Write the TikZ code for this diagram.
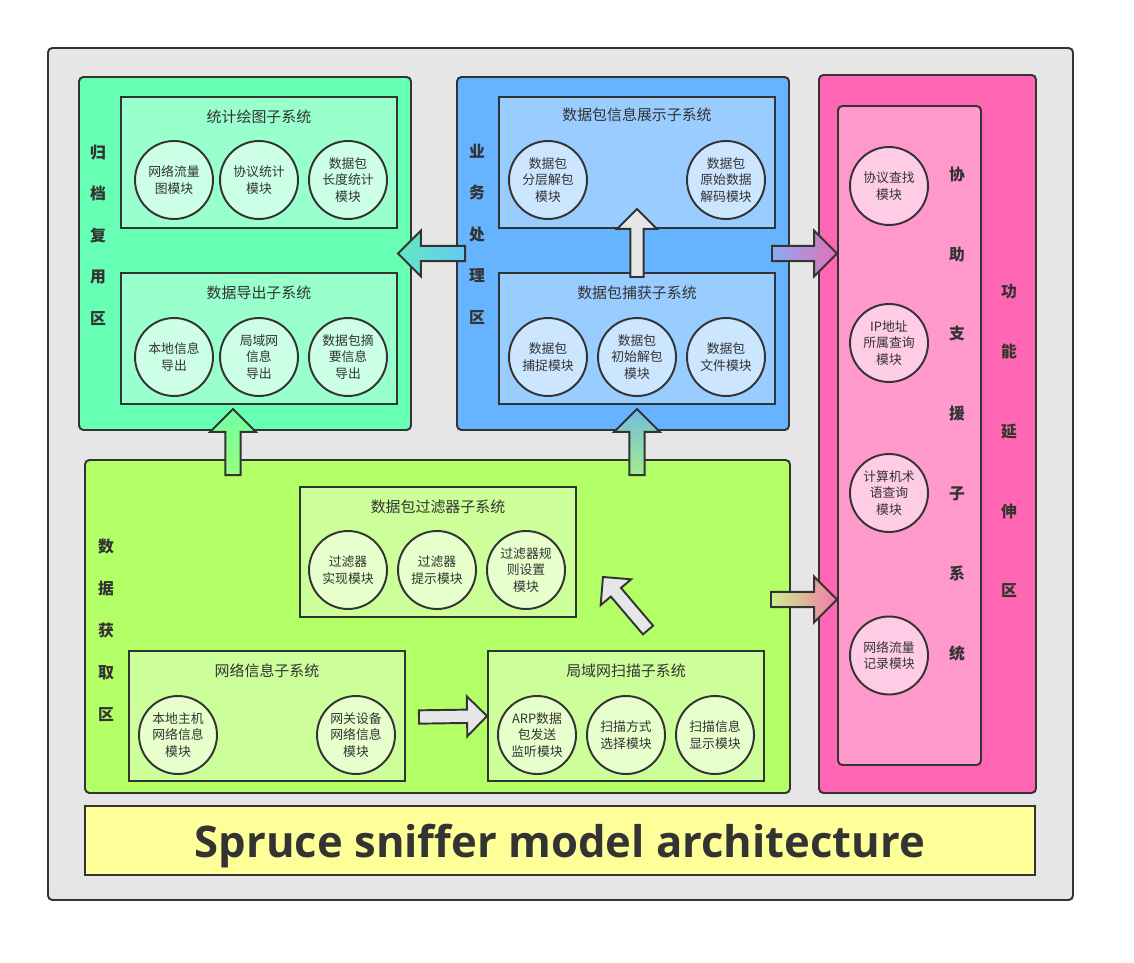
\documentclass[tikz,border=0pt]{standalone}
\usepackage{fontspec}
\usepackage{tikz}
\usetikzlibrary{calc,positioning}
\newfontfamily\cjk{Noto Sans CJK SC}
\newfontfamily\titlefont{Open Sans}

\definecolor{linec}{HTML}{333333}
\definecolor{framebg}{HTML}{E6E6E6}
\definecolor{archfill}{HTML}{66FFB3}
\definecolor{archsub}{HTML}{99FFCC}
\definecolor{archmod}{HTML}{CCFFE6}
\definecolor{busifill}{HTML}{66B3FF}
\definecolor{busisub}{HTML}{99CCFF}
\definecolor{busimod}{HTML}{CCE6FF}
\definecolor{extfill}{HTML}{FF66B3}
\definecolor{extsub}{HTML}{FF99CC}
\definecolor{extmod}{HTML}{FFCCE6}
\definecolor{acqfill}{HTML}{B3FF66}
\definecolor{acqsub}{HTML}{CCFF99}
\definecolor{acqmod}{HTML}{E6FFCC}
\definecolor{titlefill}{HTML}{FFFF99}
\definecolor{greyarr}{HTML}{E6E6E6}

\tikzset{
  zone/.style={draw=linec, line width=1.1pt, rounded corners=2.5pt},
  subbox/.style={draw=linec, line width=1.1pt},
  sz/.style 2 args={minimum width=#1*0.02cm, minimum height=#2*0.02cm, inner sep=0pt},
  modc/.style={circle, draw=linec, line width=1.1pt, minimum size=1.56cm, inner sep=0pt,
    align=center, text=linec, font=\cjk\fontsize{7.3pt}{9.4pt}\selectfont},
  subtitle/.style={text=linec, font=\cjk\fontsize{8.5pt}{10pt}\selectfont},
  zonelabel/.style={text=linec, align=center, font=\cjk\bfseries\fontsize{9pt}{23.6pt}\selectfont},
  fatline/.style={draw=linec, line width=1.1pt, line join=miter},
}

% block arrow: [style]{tail}{tip}{half width of the head}
\newcommand{\fatarrow}[4][]{%
  \path ($(#3)!#4!(#2)$) coordinate (hb);
  \draw[fatline,#1] ($(#2)!#4/3!90:(#3)$) -- ($(hb)!#4/3!90:(#3)$) -- ($(hb)!#4!90:(#3)$) -- (#3)
    -- ($(hb)!#4!-90:(#3)$) -- ($(hb)!#4/3!-90:(#3)$) -- ($(#2)!#4/3!-90:(#3)$) -- cycle;
}

\begin{document}
\begin{tikzpicture}[x=0.02cm, y=-0.02cm]
\fill [white] (0,0) rectangle (1134,963);
\useasboundingbox (0,0) rectangle (1134,963);
\node [zone, fill=framebg, sz={1025}{852}] (frame) at (560.5,474) {};

% archive zone
\node [zone, fill=archfill, sz={332}{353}] (arch) at (245,253.5) {};
\node [zonelabel] (archL) at (98,235) {归\\档\\复\\用\\区};
\node [subbox, fill=archsub, sz={276}{131}] (statbox) at (259,162.5) {};
\node [subtitle] (statT) at (259,117) {统计绘图子系统};
\node [modc, fill=archmod] (statA) at (174,180) {网络流量\\图模块};
\node [modc, fill=archmod] (statB) at (259,180) {协议统计\\模块};
\node [modc, fill=archmod] (statC) at (348,180) {数据包\\长度统计\\模块};
\node [subbox, fill=archsub, sz={276}{131}] (exportbox) at (259,338.5) {};
\node [subtitle] (exportT) at (259,293) {数据导出子系统};
\node [modc, fill=archmod] (exportA) at (174,357) {本地信息\\导出};
\node [modc, fill=archmod] (exportB) at (259,357) {局域网\\信息\\导出};
\node [modc, fill=archmod] (exportC) at (348,357) {数据包摘\\要信息\\导出};

% business zone
\node [zone, fill=busifill, sz={332}{353}] (busi) at (623,253.5) {};
\node [zonelabel] (busiL) at (477,234) {业\\务\\处\\理\\区};
\node [subbox, fill=busisub, sz={276}{131}] (showbox) at (637,162.5) {};
\node [subtitle] (showT) at (637,115) {数据包信息展示子系统};
\node [modc, fill=busimod] (showA) at (548,180) {数据包\\分层解包\\模块};
\node [modc, fill=busimod] (showB) at (726,180) {数据包\\原始数据\\解码模块};
\node [subbox, fill=busisub, sz={276}{131}] (capbox) at (637,338.5) {};
\node [subtitle] (capT) at (637,293) {数据包捕获子系统};
\node [modc, fill=busimod] (capA) at (548,357) {数据包\\捕捉模块};
\node [modc, fill=busimod] (capB) at (637,357) {数据包\\初始解包\\模块};
\node [modc, fill=busimod] (capC) at (726,357) {数据包\\文件模块};

% extension zone
\node [zone, fill=extfill, sz={217}{718}] (ext) at (927.5,434) {};
\node [zonelabel, font=\cjk\bfseries\fontsize{9pt}{45.5pt}\selectfont] (extL) at (1009,441) {功\\[-0.4cm]能\\延\\伸\\区};
\node [zone, fill=extsub, sz={143}{659}] (assist) at (909.5,435.5) {};
\node [zonelabel, font=\cjk\bfseries\fontsize{9pt}{45.5pt}\selectfont] (assistL) at (957,414) {协\\助\\支\\援\\子\\系\\统};
\node [modc, fill=extmod] (assistA) at (889,186) {协议查找\\模块};
\node [modc, fill=extmod] (assistB) at (889,343) {IP地址\\所属查询\\模块};
\node [modc, fill=extmod] (assistC) at (889,493) {计算机术\\语查询\\模块};
\node [modc, fill=extmod] (assistD) at (889,655.5) {网络流量\\记录模块};

% acquisition zone
\node [zone, fill=acqfill, sz={705}{333}] (acq) at (437.5,626.5) {};
\node [zonelabel, font=\cjk\bfseries\fontsize{9pt}{23.9pt}\selectfont] (acqL) at (106,630) {数\\据\\获\\取\\区};
\node [subbox, fill=acqsub, sz={276}{130}] (filterbox) at (438,552) {};
\node [subtitle] (filterT) at (438,507) {数据包过滤器子系统};
\node [modc, fill=acqmod] (filterA) at (348,570) {过滤器\\实现模块};
\node [modc, fill=acqmod] (filterB) at (437,570) {过滤器\\提示模块};
\node [modc, fill=acqmod] (filterC) at (526,570) {过滤器规\\则设置\\模块};
\node [subbox, fill=acqsub, sz={276}{130}] (netbox) at (267,716) {};
\node [subtitle] (netT) at (267,671) {网络信息子系统};
\node [modc, fill=acqmod] (netA) at (178,735) {本地主机\\网络信息\\模块};
\node [modc, fill=acqmod] (netB) at (356,735) {网关设备\\网络信息\\模块};
\node [subbox, fill=acqsub, sz={276}{130}] (scanbox) at (626,716) {};
\node [subtitle] (scanT) at (626,671) {局域网扫描子系统};
\node [modc, fill=acqmod] (scanA) at (537,735) {ARP数据\\包发送\\监听模块};
\node [modc, fill=acqmod] (scanB) at (626,735) {扫描方式\\选择模块};
\node [modc, fill=acqmod] (scanC) at (715,735) {扫描信息\\显示模块};

% title bar
\node [subbox, fill=titlefill, sz={950}{69}, text=linec, text depth=0pt, font=\titlefont\bfseries\fontsize{24.8pt}{28pt}\selectfont] (titlebar) at (560,840.5) {Spruce sniffer model architecture};

% arrows between zones
\fatarrow[left color={rgb,255:red,99;green,232;blue,194}, right color={rgb,255:red,102;green,200;blue,242}]{$(busi.west)+(9,0)$}{statbox.east |- busi.west}{0.46cm}
\fatarrow[left color={rgb,255:red,140;green,170;blue,240}, right color={rgb,255:red,226;green,112;blue,184}]{$(showbox.east |- busi.east)+(-4,0)$}{assist.west |- busi.east}{0.46cm}
\fatarrow[top color={rgb,255:red,112;green,255;blue,160}, bottom color={rgb,255:red,153;green,255;blue,128}]{$(acq.north west)+(149,16)$}{$(arch.south west)+(155,-22)$}{0.46cm}
\fatarrow[top color={rgb,255:red,112;green,188;blue,224}, bottom color={rgb,255:red,166;green,236;blue,140}]{$(capbox.south |- acq.north)+(0,16)$}{$(capbox.south)+(0,4)$}{0.46cm}
\fatarrow[left color={rgb,255:red,203;green,242;blue,138}, right color={rgb,255:red,240;green,122;blue,168}]{$(acq.east)+(-20,-27)$}{$(assist.west |- acq.east)+(0,-27)$}{0.46cm}
% arrows inside zones
\fatarrow[fill=greyarr]{$(capbox.north)+(0,5)$}{$(showbox.south)+(0,-20)$}{0.4cm}
\fatarrow[fill=greyarr]{$(netbox.east)+(13,1)$}{scanbox.west}{0.4cm}
\fatarrow[fill=greyarr]{$(scanbox.north)+(22,-20)$}{$(filterbox.east)+(26,25)$}{0.4cm}
\end{tikzpicture}
\end{document}
